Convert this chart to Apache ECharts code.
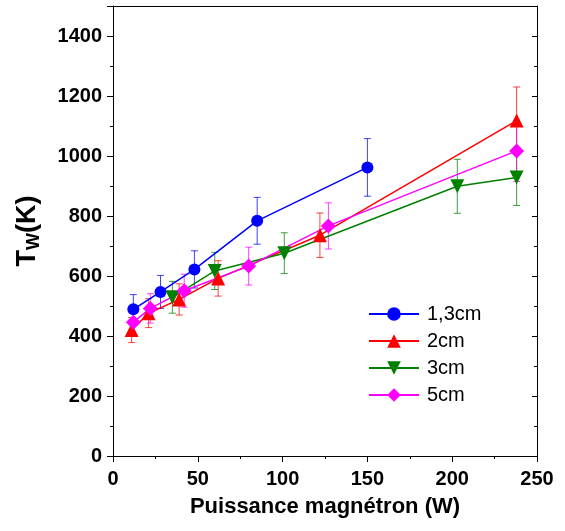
<!DOCTYPE html>
<html>
<head>
<meta charset="utf-8">
<script src="https://cdn.jsdelivr.net/npm/echarts@6/dist/echarts.min.js"></script>
<style>
html,body{margin:0;padding:0;background:#fff;}
#c{width:565px;height:531px;}
</style>
</head>
<body>
<div id="c"></div>
<script>
// Data
const seriesNames = ['1,3cm', '2cm', '3cm', '5cm'];
const x13 = [12, 28, 48, 85, 150];
const y13 = [489, 547, 622, 784, 962];
const e13 = [49, 55, 62, 78, 96];
const x2 = [11, 21, 39, 62, 122, 238];
const y2 = [420, 476, 522, 592, 736, 1118];
const e2 = [42, 48, 52, 59, 74, 112];
const x3 = [35, 60, 101, 203, 238];
const y3 = [529, 617, 676, 899, 928];
const e3 = [53, 62, 68, 90, 93];
const x5 = [12, 22, 42, 80, 127, 238];
const y5 = [446, 492, 551, 633, 767, 1017];
const e5 = [45, 49, 55, 63, 77, 102];
const xTicks = [0, 50, 100, 150, 200, 250];
const yTicks = [0, 200, 400, 600, 800, 1000, 1200, 1400];

const colors = ['#0000FF', '#FF0000', '#008000', '#FF00FF'];
const symbols = ['circle', 'triangle', 'triangle', 'diamond'];
const rotations = [0, 0, 180, 0];
const sizes = [12, 14, 14, 15];
const xs = [x13, x2, x3, x5], ys = [y13, y2, y3, y5], es = [e13, e2, e3, e5];

const FONT = 'Liberation Sans, Arial, sans-serif';

function errSeries(i) {
  const data = xs[i].map((x, k) => [x, ys[i][k] - es[i][k], ys[i][k] + es[i][k]]);
  return {
    type: 'custom',
    name: seriesNames[i] + '_err',
    z: 1,
    silent: true,
    data: data,
    encode: { x: 0, y: [1, 2] },
    renderItem: function (params, api) {
      const lo = api.coord([api.value(0), api.value(1)]);
      const hi = api.coord([api.value(0), api.value(2)]);
      const w = 3.5;
      const st = { stroke: colors[i], lineWidth: 1, opacity: 0.75 };
      return {
        type: 'group',
        children: [
          { type: 'line', shape: { x1: lo[0], y1: lo[1], x2: hi[0], y2: hi[1] }, style: st },
          { type: 'line', shape: { x1: lo[0] - w, y1: lo[1], x2: lo[0] + w, y2: lo[1] }, style: st },
          { type: 'line', shape: { x1: hi[0] - w, y1: hi[1], x2: hi[0] + w, y2: hi[1] }, style: st }
        ]
      };
    }
  };
}

function lineSeries(i) {
  return {
    type: 'line',
    name: seriesNames[i],
    z: 2,
    data: xs[i].map((x, k) => [x, ys[i][k]]),
    symbol: symbols[i],
    symbolSize: sizes[i],
    symbolRotate: rotations[i],
    showAllSymbol: true,
    lineStyle: { color: colors[i], width: 1.5 },
    itemStyle: { color: colors[i] },
    emphasis: { disabled: true },
    animation: false
  };
}

const series = [];
for (let i = 0; i < 4; i++) series.push(errSeries(i));
for (let i = 0; i < 4; i++) series.push(lineSeries(i));

const chart = echarts.init(document.getElementById('c'), null, { renderer: 'canvas' });
chart.setOption({
  animation: false,
  backgroundColor: '#fff',
  grid: { left: 113, right: 28, top: 6, bottom: 75, containLabel: false },
  legend: {
    data: seriesNames,
    orient: 'vertical',
    left: 368,
    top: 304,
    padding: 0,
    itemWidth: 50,
    itemHeight: 17,
    itemGap: 7,
    textStyle: { fontFamily: FONT, fontSize: 20, color: '#000', padding: [0, 0, 0, 3] }
  },
  xAxis: [{
    type: 'value',
    min: 0, max: 250, interval: 50,
    name: 'Puissance magnétron (W)',
    nameLocation: 'middle',
    nameGap: 40,
    nameTextStyle: { fontFamily: FONT, fontSize: 22, fontWeight: 'bold', color: '#000' },
    axisLine: { show: true, onZero: false, lineStyle: { color: '#000', width: 1 } },
    axisTick: { show: true, inside: false, length: 6, lineStyle: { color: '#000' } },
    minorTick: { show: true, splitNumber: 2, length: 3, lineStyle: { color: '#000' } },
    axisLabel: { fontFamily: FONT, fontSize: 20, fontWeight: 'bold', color: '#000', margin: 13,
      formatter: v => xTicks.includes(v) ? String(v) : '' },
    splitLine: { show: false }
  }, {
    type: 'value',
    position: 'top',
    min: 0, max: 250, interval: 50,
    axisLine: { show: true, onZero: false, lineStyle: { color: '#000', width: 1 } },
    axisTick: { show: false },
    axisLabel: { show: false },
    splitLine: { show: false }
  }],
  yAxis: [{
    type: 'value',
    min: 0, max: 1500, interval: 200,
    name: '{a|T}{b|W}{a|(K)}',
    nameLocation: 'middle',
    nameGap: 70,
    nameTextStyle: {
      rich: {
        a: { fontFamily: FONT, fontSize: 27, fontWeight: 'bold', color: '#000', lineHeight: 30 },
        b: { fontFamily: FONT, fontSize: 18, fontWeight: 'bold', color: '#000', lineHeight: 30, verticalAlign: 'bottom', padding: [10, 0, 0, 0] }
      }
    },
    axisLine: { show: true, onZero: false, lineStyle: { color: '#000', width: 1 } },
    axisTick: { show: true, inside: false, length: 6, lineStyle: { color: '#000' } },
    minorTick: { show: true, splitNumber: 2, length: 3, lineStyle: { color: '#000' } },
    axisLabel: { fontFamily: FONT, fontSize: 20, fontWeight: 'bold', color: '#000', margin: 11,
      showMaxLabel: false, formatter: v => yTicks.includes(v) ? String(v) : '' },
    splitLine: { show: false }
  }, {
    type: 'value',
    position: 'right',
    min: 0, max: 1500, interval: 200,
    axisLine: { show: true, onZero: false, lineStyle: { color: '#000', width: 1 } },
    axisTick: { show: true, inside: true, length: 5, lineStyle: { color: '#000' } },
    minorTick: { show: true, splitNumber: 2, length: 3, lineStyle: { color: '#000' } },
    axisLabel: { show: false },
    splitLine: { show: false }
  }],
  series: series
});
</script>
</body>
</html>
